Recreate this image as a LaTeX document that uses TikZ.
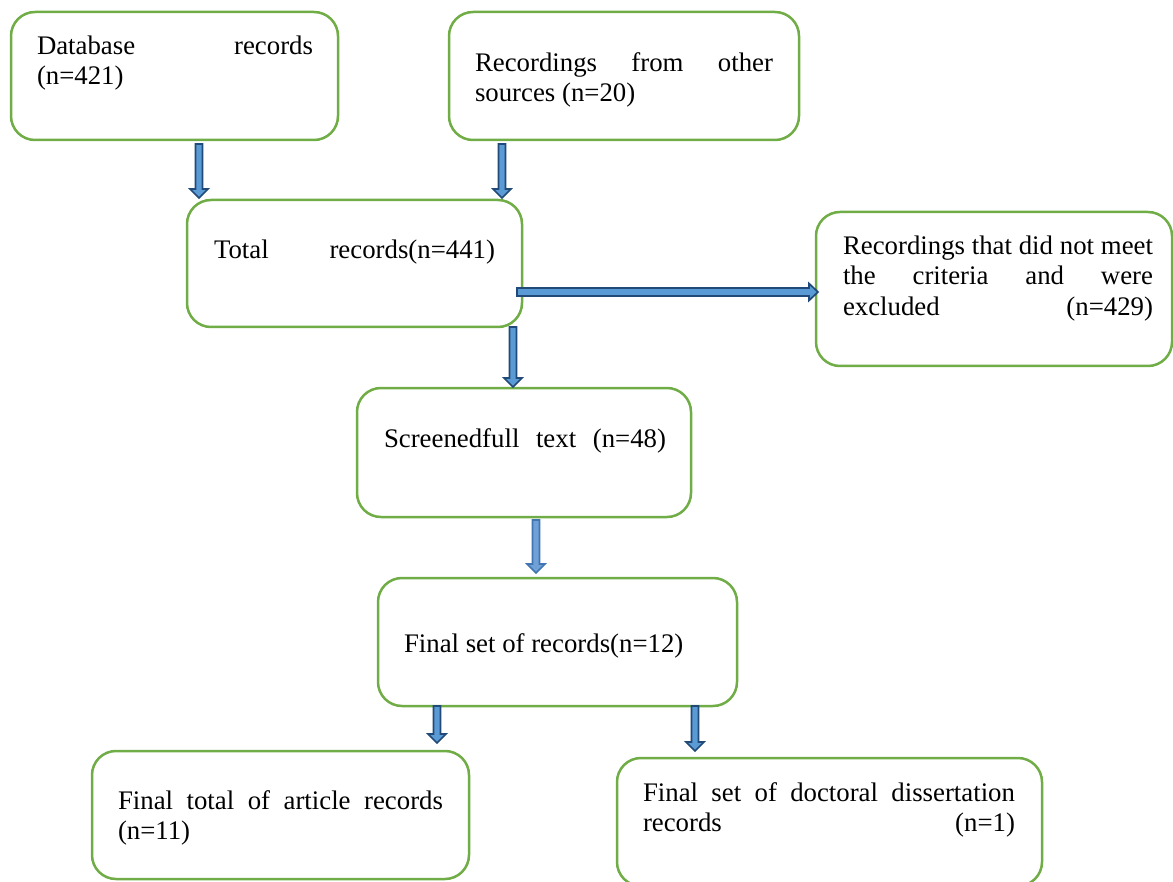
\documentclass[tikz,border=0pt]{standalone}
\usepackage{fontspec}
\setmainfont{Liberation Serif}
\usetikzlibrary{calc}
\definecolor{boxgreen}{HTML}{70AD47}
\definecolor{arrdark}{HTML}{224A78}
\definecolor{arrfill}{HTML}{5B9BD5}
\definecolor{arrdarkb}{HTML}{4176B0}
\definecolor{arrfillb}{HTML}{6FA0D8}
\newcommand\jl[2]{{\spaceskip=0.25em plus 1fil\relax\makebox[#1][s]{\strut #2}}}
\newcommand\vblock[3][barrow]{\draw[#1] ($(#2)+(-3.5,0)$) -- ($(#3)+(-3.5,-9)$) -- ($(#3)+(-9,-9)$) -- (#3) -- ($(#3)+(9,-9)$) -- ($(#3)+(3.5,-9)$) -- ($(#2)+(3.5,0)$) -- cycle;}
\newcommand\hblock[3][barrow]{\draw[#1] ($(#2)+(0,-4)$) -- ($(#3)+(-9,-4)$) -- ($(#3)+(-9,-8.5)$) -- (#3) -- ($(#3)+(-9,8.5)$) -- ($(#3)+(-9,4)$) -- ($(#2)+(0,4)$) -- cycle;}
\begin{document}
\begin{tikzpicture}[x=0.5pt,y=-0.5pt,
  box/.style={draw=boxgreen, line width=1.25pt, rounded corners=12pt, inner sep=0pt, outer sep=0pt},
  txt/.style={anchor=north west, inner sep=0pt, outer sep=0pt, align=left, font=\fontsize{13.4}{15.25}\selectfont,
    execute at begin node={\spaceskip=0pt\xspaceskip=0pt\relax}},
  barrow/.style={draw=arrdark, fill=arrfill, line width=0.85pt, line join=miter},
  barrowb/.style={draw=arrdarkb, fill=arrfillb, line width=0.85pt, line join=miter}]
\useasboundingbox (0,0) rectangle (1173,882);
% boxes
\node[box, minimum width=163.5pt, minimum height=64pt] (db) at (174.5,76) {};
\node[box, minimum width=175pt, minimum height=64pt] (oth) at (624,76) {};
\node[box, minimum width=167.5pt, minimum height=63.5pt] (tot) at (354.5,263.5) {};
\node[box, minimum width=178pt, minimum height=77pt] (exc) at (994,289) {};
\node[box, minimum width=167pt, minimum height=64.5pt] (scr) at (524,452.5) {};
\node[box, minimum width=179.5pt, minimum height=64pt] (fin) at (557.5,642) {};
\node[box, minimum width=188.5pt, minimum height=64pt] (art) at (280.5,815) {};
\node[box, minimum width=212.5pt, minimum height=64pt] (doc) at (829.5,822) {};
% texts
\node[txt, text width=138pt] (dbt) at (37,33) {\jl{138pt}{Database records}\\\strut(n=421)};
\node[txt, text width=149pt] (otht) at (475,50) {\jl{149pt}{Recordings from other}\\\strut sources (n=20)};
\node[txt, text width=140.5pt] (tott) at (214,237) {\jl{140.5pt}{Total records(n=441)}};
\node[txt, text width=155pt] (exct) at (843,233) {\jl{155pt}{Recordings that did not meet}\\\jl{155pt}{the criteria and were}\\\jl{155pt}{excluded (n=429)}};
\node[txt, text width=141pt] (scrt) at (384,426) {\jl{141pt}{Screenedfull text (n=48)}};
\node[txt, text width=150pt] (fint) at (404,631) {\strut Final set of records(n=12)};
\node[txt, text width=162.5pt] (artt) at (118,788) {\jl{162.5pt}{Final total of article records}\\\strut(n=11)};
\node[txt, text width=186pt] (doct) at (643,780) {\jl{186pt}{Final set of doctoral dissertation}\\\jl{186pt}{records (n=1)}};
% arrow end points
\coordinate (a1s) at (199,144); \coordinate (a1e) at (199,198);
\coordinate (a2s) at (502,144); \coordinate (a2e) at (502,198);
\coordinate (a3s) at (517,292); \coordinate (a3e) at (818,292);
\coordinate (a4s) at (513,327); \coordinate (a4e) at (513,387);
\coordinate (a5s) at (536,520); \coordinate (a5e) at (536,573);
\coordinate (a6s) at (437,706); \coordinate (a6e) at (437,743);
\coordinate (a7s) at (695,706); \coordinate (a7e) at (695,751);
\vblock{a1s}{a1e}
\vblock{a2s}{a2e}
\hblock{a3s}{a3e}
\vblock{a4s}{a4e}
\vblock[barrowb]{a5s}{a5e}
\vblock{a6s}{a6e}
\vblock{a7s}{a7e}
\end{tikzpicture}
\end{document}
